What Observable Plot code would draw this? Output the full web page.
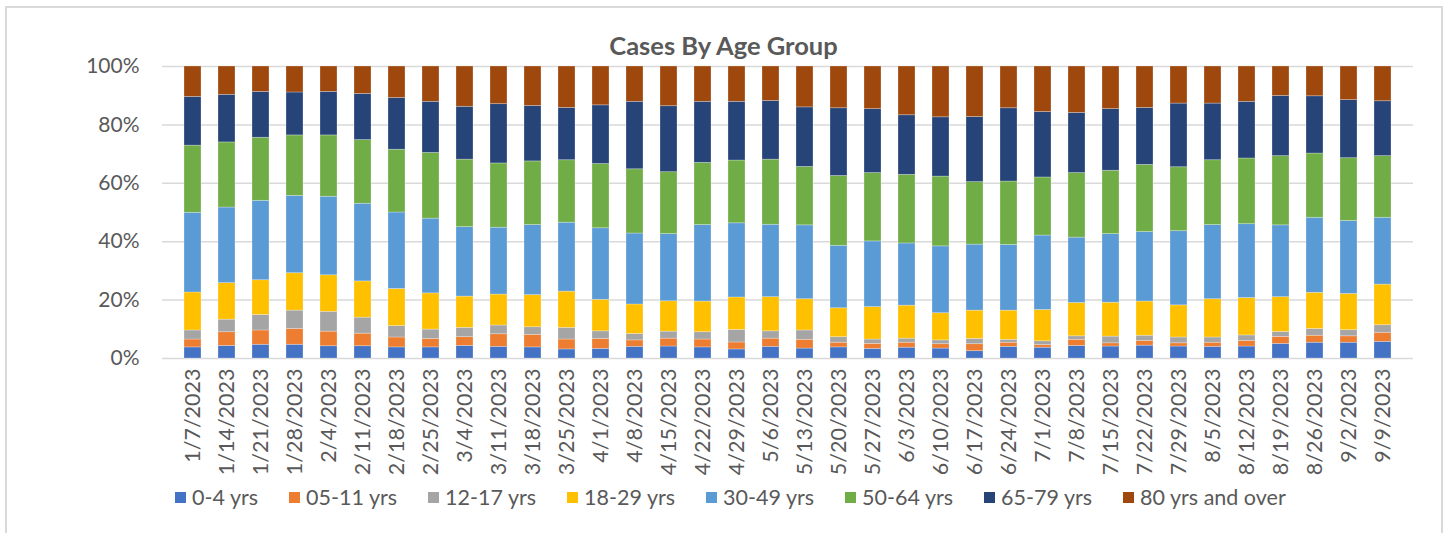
<!DOCTYPE html>
<html><head><meta charset="utf-8">
<script src="https://cdn.jsdelivr.net/npm/d3@7"></script>
<script src="https://cdn.jsdelivr.net/npm/@observablehq/plot@0.6"></script>
<style>
body{margin:0;background:#fff;font-family:Lato,sans-serif;}
#wrap{position:relative;width:1447px;height:533px;overflow:hidden;background:#fff;}
#frame{position:absolute;left:5px;top:6px;width:1438px;height:600px;border:2px solid #d9d9d9;box-sizing:border-box;}
#title{position:absolute;top:30px;left:0;width:1447px;text-align:center;font-weight:bold;font-size:25.5px;line-height:30px;color:#595959;font-family:Lato,sans-serif;}
#chart{position:absolute;left:0;top:0;}
#legend{position:absolute;top:485px;left:175px;display:flex;gap:31px;font-size:21.5px;line-height:24px;color:#595959;font-family:Lato,sans-serif;}
#legend .item{display:flex;align-items:center;white-space:nowrap;}
#legend .sw{width:11px;height:11px;margin-right:6px;}
</style>
</head><body>
<div id="wrap">
  <div id="frame"></div>
  <div id="chart"></div>
  <div id="title">Cases By Age Group</div>
  <div id="legend"></div>
</div>
<script>
const dates = ["1/7/2023","1/14/2023","1/21/2023","1/28/2023","2/4/2023","2/11/2023","2/18/2023","2/25/2023","3/4/2023","3/11/2023","3/18/2023","3/25/2023","4/1/2023","4/8/2023","4/15/2023","4/22/2023","4/29/2023","5/6/2023","5/13/2023","5/20/2023","5/27/2023","6/3/2023","6/10/2023","6/17/2023","6/24/2023","7/1/2023","7/8/2023","7/15/2023","7/22/2023","7/29/2023","8/5/2023","8/12/2023","8/19/2023","8/26/2023","9/2/2023","9/9/2023"];
const ageGroups = ["0-4 yrs","05-11 yrs","12-17 yrs","18-29 yrs","30-49 yrs","50-64 yrs","65-79 yrs","80 yrs and over"];
const groupColors = ["#4472C4","#ED7D31","#A5A5A5","#FFC000","#5B9BD5","#70AD47","#264478","#9E480E"];
const yTicks = [0,20,40,60,80,100];

const age0to4   = [3.8,4.3,4.7,4.7,4.2,4.2,3.8,3.8,4.3,4.0,3.8,3.1,3.3,4.0,4.1,3.8,3.1,4.0,3.4,3.8,3.3,3.7,3.4,2.5,4.0,3.7,4.3,4.1,4.4,4.1,4.0,4.1,5.0,5.4,5.4,5.7];
const age5to11  = [2.7,4.7,4.9,5.4,5.0,4.3,3.4,2.9,3.0,4.3,4.3,3.4,3.4,2.2,2.7,2.7,2.4,2.8,3.0,1.6,1.7,1.7,1.5,2.4,1.4,0.9,2.1,1.1,1.6,1.1,1.4,1.9,2.4,2.4,2.2,3.1];
const age12to17 = [3.1,4.3,5.3,6.3,6.8,5.5,3.9,3.2,3.2,3.0,2.6,4.0,2.6,2.2,2.4,2.5,4.3,2.5,3.2,1.9,1.5,1.4,1.3,1.8,1.0,1.3,1.2,2.3,1.8,2.0,1.8,1.9,1.7,2.3,2.1,2.6];
const age18to29 = [13.0,12.5,11.9,12.8,12.5,12.4,12.7,12.4,10.7,10.6,11.0,12.4,10.8,10.1,10.4,10.5,11.1,11.7,10.7,9.9,11.1,11.3,9.3,9.7,10.0,10.7,11.4,11.6,11.7,11.0,13.1,12.8,11.9,12.4,12.4,13.9];
const age30to49 = [27.3,25.9,27.2,26.5,26.9,26.6,26.2,25.6,23.8,22.9,24.0,23.6,24.5,24.3,23.0,26.2,25.4,24.8,25.3,21.4,22.5,21.3,22.9,22.6,22.5,25.5,22.4,23.5,23.8,25.4,25.4,25.3,24.6,25.7,25.0,22.9];
const age50to64 = [23.0,22.3,21.6,20.7,21.0,21.8,21.5,22.5,23.1,22.0,21.8,21.4,22.0,22.0,21.2,21.3,21.5,22.3,20.0,23.9,23.4,23.5,23.9,21.4,21.7,19.9,22.1,21.7,23.0,21.9,22.2,22.5,23.7,22.0,21.5,21.1];
const age65to79 = [16.7,16.3,15.7,14.7,14.9,15.8,17.7,17.5,18.1,20.3,19.0,17.9,20.1,23.1,22.6,20.9,20.1,20.1,20.4,23.2,21.9,20.4,20.3,22.3,25.1,22.4,20.6,21.1,19.5,21.8,19.4,19.4,20.6,19.6,19.9,18.8];
const age80plus = [10.4,9.7,8.7,8.9,8.7,9.4,10.8,12.1,13.8,12.9,13.5,14.2,13.3,12.1,13.6,12.1,12.1,11.8,14.0,14.3,14.6,16.7,17.4,17.3,14.3,15.6,15.9,14.6,14.2,12.7,12.7,12.1,10.1,10.2,11.5,11.9];

const seriesValues = [age0to4, age5to11, age12to17, age18to29, age30to49, age50to64, age65to79, age80plus];
const data = [];
seriesValues.forEach((vals, i) => vals.forEach((v, j) => data.push({date: dates[j], group: ageGroups[i], value: v})));

const chart = Plot.plot({
  width: 1447,
  height: 478,
  marginLeft: 162,
  marginRight: 34,
  marginTop: 66,
  marginBottom: 120,
  style: {fontFamily: "Lato, sans-serif", fontSize: "21px", color: "#595959", background: "transparent"},
  x: {domain: dates, paddingInner: 0.51, paddingOuter: 0.255, label: null},
  y: {domain: [0, 100], label: null},
  color: {domain: ageGroups, range: groupColors},
  marks: [
    Plot.gridY(yTicks, {stroke: "#d9d9d9", strokeOpacity: 1, strokeWidth: 1.5}),
    Plot.barY(data, {x: "date", y: "value", fill: "group", order: ageGroups, stroke: "#ffffff", strokeOpacity: 0.35, strokeWidth: 0.75}),
    Plot.axisY(yTicks, {tickSize: 0, tickPadding: 23, tickFormat: d => d + "%", fontSize: 21, fill: "#595959", label: null}),
    Plot.axisX({tickSize: 0, tickRotate: -90, tickPadding: 10, fontSize: 21.5, fill: "#595959", label: null})
  ]
});
document.getElementById("chart").appendChild(chart);

const legend = document.getElementById("legend");
ageGroups.forEach((g, i) => {
  const item = document.createElement("div");
  item.className = "item";
  const sw = document.createElement("span");
  sw.className = "sw";
  sw.style.background = groupColors[i];
  const t = document.createElement("span");
  t.textContent = g;
  item.appendChild(sw);
  item.appendChild(t);
  legend.appendChild(item);
});
</script>
</body></html>
